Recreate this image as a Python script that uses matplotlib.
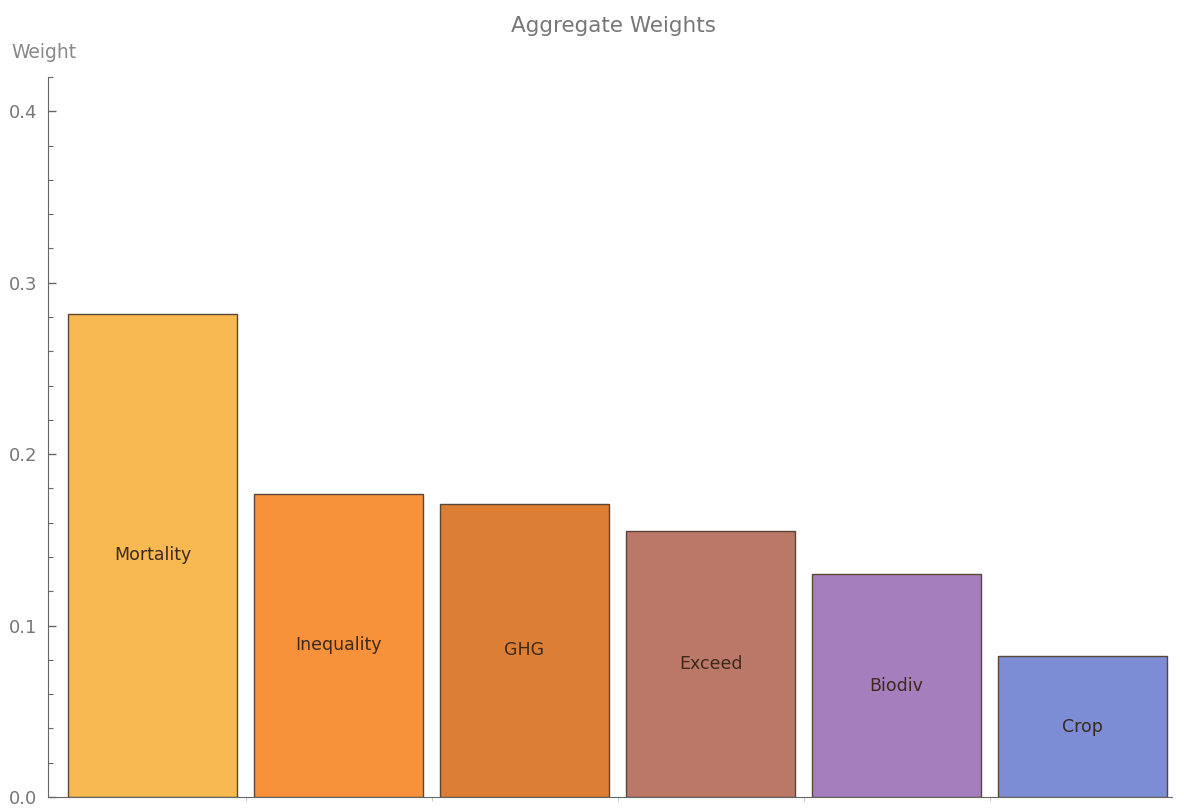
import numpy as np
import matplotlib.pyplot as plt
from matplotlib.ticker import MultipleLocator

# data
categories = ["Mortality", "Inequality", "GHG", "Exceed", "Biodiv", "Crop"]
weights = [0.282, 0.177, 0.171, 0.155, 0.130, 0.082]
colors = ["#F8BA50", "#F8923A", "#DC7F34", "#BB7868", "#A57EBD", "#7C8CD5"]

fig = plt.figure(figsize=(11.84, 8.08), dpi=100)
ax = fig.add_axes([48 / 1184, 11 / 808, 1124 / 1184, 720 / 808])

x = np.arange(len(categories))
ax.bar(x, weights, width=0.909, color=colors, edgecolor="#5a4636", linewidth=1.0)

# labels in the middle of each bar
for xi, w, name in zip(x, weights, categories):
    ax.text(xi, w / 2, name, ha="center", va="center", fontsize=12.5, color="#3b2a1c")

ax.set_xlim(-0.562, 5.481)
ax.set_ylim(0, 0.42)

ax.yaxis.set_major_locator(MultipleLocator(0.1))
ax.yaxis.set_minor_locator(MultipleLocator(0.02))
ax.yaxis.set_major_formatter(plt.FuncFormatter(lambda v, p: "%.1f" % v))
ax.tick_params(axis="y", which="major", direction="in", length=6, width=1,
               color="#666666", labelcolor="#777777", labelsize=13, pad=8)
ax.tick_params(axis="y", which="minor", direction="in", length=3.5, width=0.8, color="#666666")

ax.set_xticks(x[:-1] + 0.5)
ax.set_xticks([], minor=True)
ax.tick_params(axis="x", which="major", direction="out", length=3, width=0.6,
               color="#bbbbbb", labelbottom=False)

for s in ["top", "right"]:
    ax.spines[s].set_visible(False)
ax.spines["left"].set_color("#666666")
ax.spines["bottom"].set_color("#666666")

fig.text(11 / 1184, 1 - 52 / 808, "Weight", ha="left", va="center", fontsize=13.5, color="#888888")
fig.text(614 / 1184, 1 - 26 / 808, "Aggregate Weights", ha="center", va="center",
         fontsize=15.5, color="#777777")

fig.savefig("out.png", dpi=100)
